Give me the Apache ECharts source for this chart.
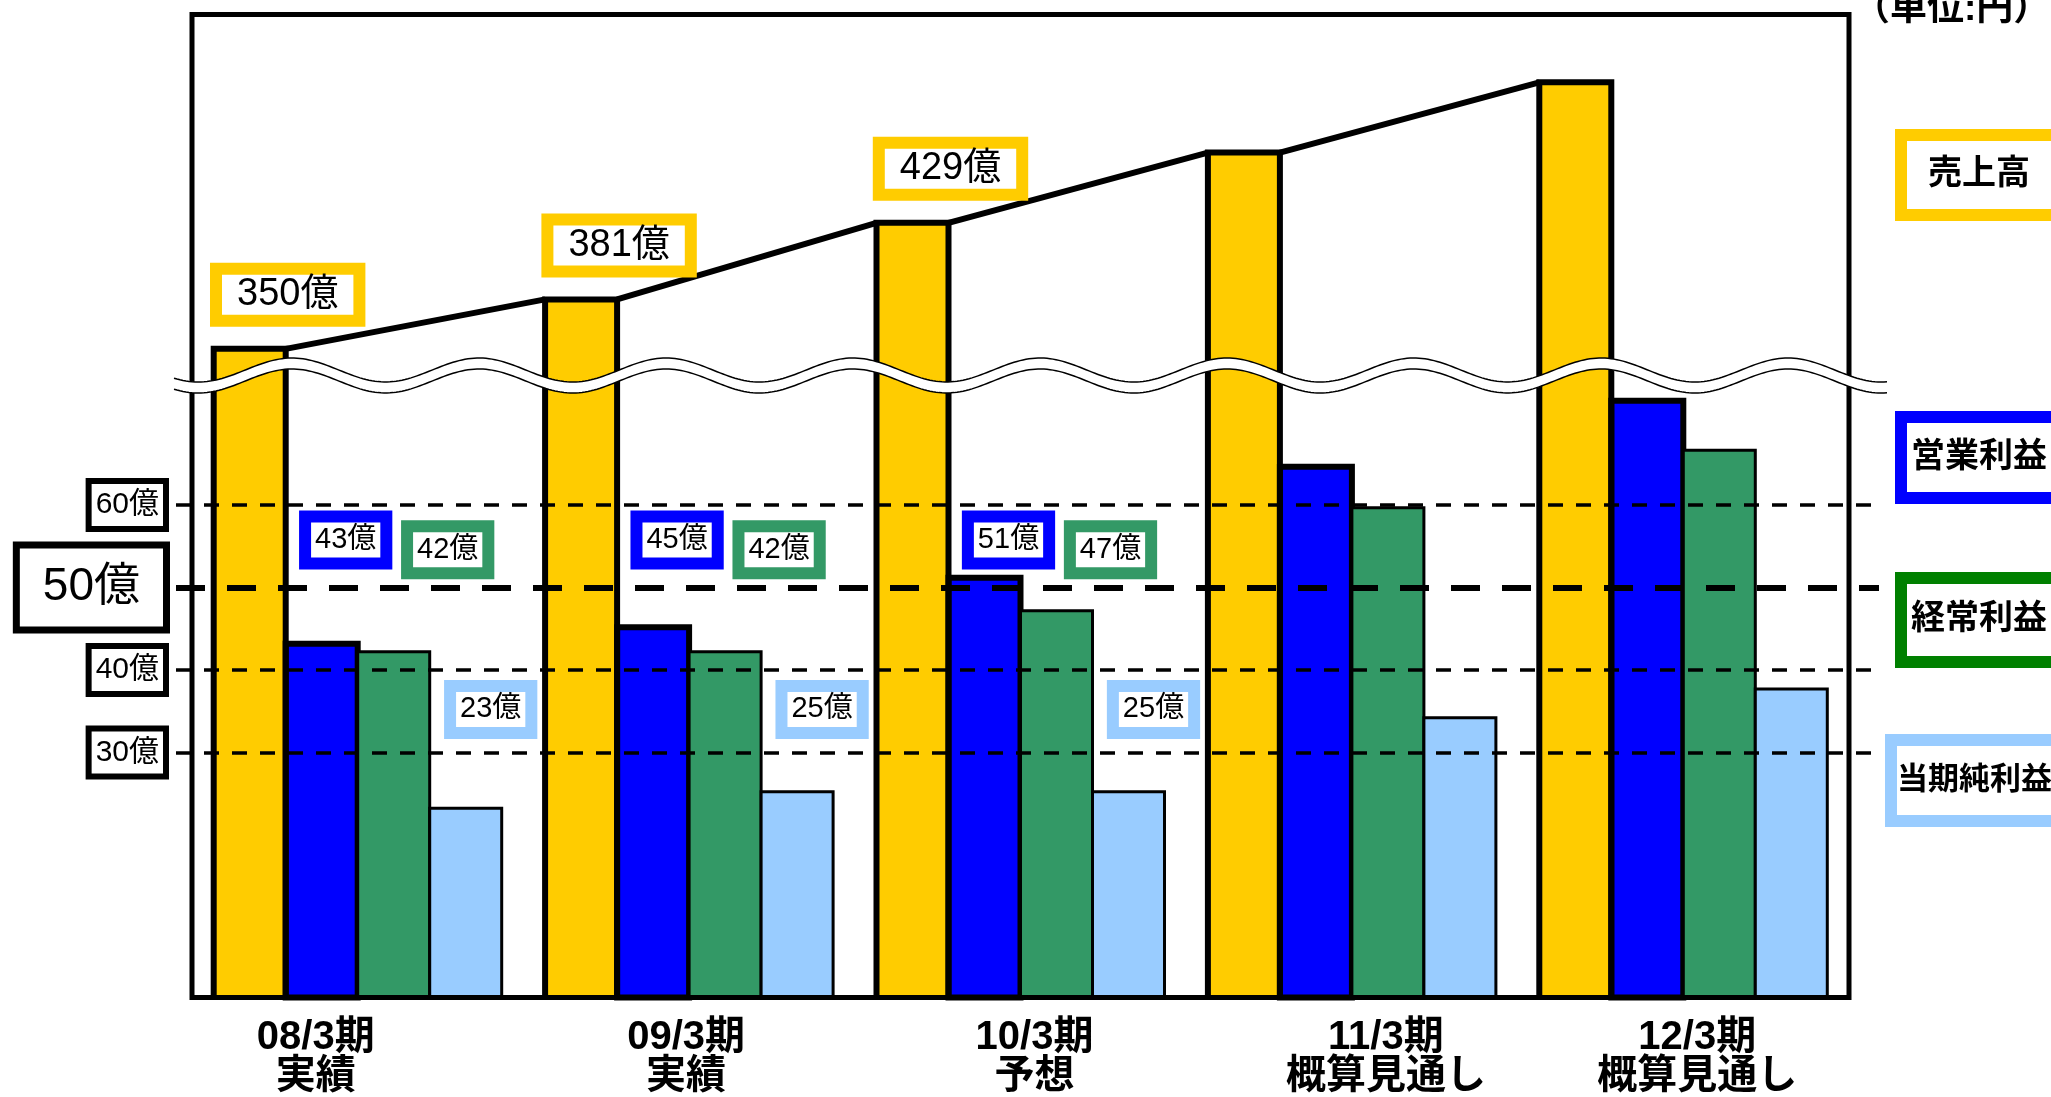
<!DOCTYPE html>
<html>
<head>
<meta charset="utf-8">
<script src="https://cdn.jsdelivr.net/npm/echarts@6/dist/echarts.min.js"></script>
<style>
  html, body { margin: 0; padding: 0; background: #fff; }
  #chart { width: 2051px; height: 1097px; }
</style>
</head>
<body>
<div id="chart"></div>
<script>
// values in 億円
var periods = ['08/3期\n実績', '09/3期\n実績', '10/3期\n予想', '11/3期\n概算見通し', '12/3期\n概算見通し'];
var sales = [350, 381, 429, 473, 517];
var operatingProfit = [43, 45, 51, 64.5, 72.5];
var ordinaryProfit = [42, 42, 47, 59.5, 66.5];
var netProfit = [23, 25, 25, 34, 37.5];
var guideLevels = [30, 40, 50, 60];
var labelledPeriods = 3; // the two outlook periods carry no value boxes

// ---- style ----
var FONT = "'Liberation Sans', 'Noto Sans CJK JP', sans-serif";
var BAR_W = 72;
var YELLOW = '#FFCC00', BLUE = '#0000FF', GREEN = '#339966', SKY = '#99CCFF';
var labelShift = [-42, -3, 14, 34, 14]; // period labels are not centred under their groups
var WAVE = { from: 174, to: 1888, y: 370, band: 11, amp: 12, period: 187, phase: 292 };

var chart = echarts.init(document.getElementById('chart'));

// left edge of bar k (0..3) in the group centred on cx
function slotLeft(cx, k) {
  return cx - 2 * BAR_W + k * BAR_W;
}

function valueBox(text, x, y, color, size, pad, lh) {
  return {
    type: 'text',
    z2: 50,
    style: {
      text: text, x: x, y: y,
      align: 'center', verticalAlign: 'middle',
      fontSize: size, fontFamily: FONT, lineHeight: lh,
      fill: '#000', backgroundColor: '#fff',
      borderColor: color, borderWidth: 12, padding: pad
    }
  };
}

function renderSales(params, api) {
  var i = api.value(0);
  var top = api.coord([i, api.value(1)]);
  var bottom = params.coordSys.y + params.coordSys.height;
  var x = slotLeft(top[0], 0);
  var kids = [
    { type: 'rect', shape: { x: x, y: top[1], width: BAR_W, height: bottom - top[1] }, style: { fill: YELLOW } },
    { type: 'polyline', z2: 10,
      shape: { points: [[x, bottom], [x, top[1]], [x + BAR_W, top[1]], [x + BAR_W, bottom]] },
      style: { stroke: '#000', lineWidth: 6, fill: null, lineJoin: 'miter' } }
  ];
  if (i + 1 < sales.length) {
    var next = api.coord([i + 1, sales[i + 1]]);
    kids.push({ type: 'line', z2: 10,
      shape: { x1: x + BAR_W, y1: top[1], x2: slotLeft(next[0], 0), y2: next[1] },
      style: { stroke: '#000', lineWidth: 6 } });
  }
  if (i < labelledPeriods) {
    kids.push(valueBox(api.value(1) + '億', x + BAR_W / 2 + 38, top[1] - 54, YELLOW, 38, [2, 15], 36));
  }
  return { type: 'group', children: kids };
}

function profitBars(slot, fill, lineWidth, labelDx, labelLevel) {
  return function (params, api) {
    var i = api.value(0);
    var v = api.value(1);
    var top = api.coord([i, v]);
    var bottom = params.coordSys.y + params.coordSys.height;
    var x = slotLeft(top[0], slot);
    var kids = [{
      type: 'rect',
      shape: { x: x, y: top[1], width: BAR_W, height: bottom - top[1] },
      style: { fill: fill, stroke: '#000', lineWidth: lineWidth }
    }];
    if (i < labelledPeriods) {
      var at = api.coord([i, labelLevel]);
      kids.push(valueBox(v + '億', x + BAR_W / 2 + labelDx, at[1], fill, 29, [2, 4], 31));
    }
    return { type: 'group', children: kids };
  };
}

function pairs(arr) {
  return arr.map(function (v, i) { return [i, v]; });
}

function waveLine(offset) {
  var pts = [];
  for (var x = WAVE.from; x <= WAVE.to; x += 3) {
    pts.push([x, WAVE.y + offset - WAVE.amp * Math.cos(2 * Math.PI * (x - WAVE.phase) / WAVE.period)]);
  }
  return pts;
}

var upper = waveLine(0);
var lower = waveLine(WAVE.band);

var legendBoxes = [
  { name: '売上高', color: YELLOW, left: 1900, top: 129, size: 34, pad: [16, 21] },
  { name: '営業利益', color: BLUE, left: 1900, top: 411, size: 34, pad: [16.5, 4] },
  { name: '経常利益', color: '#008000', left: 1900, top: 572, size: 34, pad: [18, 4] },
  { name: '当期純利益', color: SKY, left: 1890, top: 734, size: 31, pad: [16.5, 0] }
];

var option = {
  animation: false,
  backgroundColor: '#fff',
  title: {
    text: '（単位:円）', left: 1853, top: -9, padding: 0,
    textStyle: { fontSize: 37, fontWeight: 'bold', fontFamily: FONT, color: '#000', lineHeight: 37 }
  },
  legend: legendBoxes.map(function (b) {
    return {
      data: [b.name], left: b.left - 5, top: b.top, padding: 0,
      itemWidth: 0, itemHeight: 0, icon: 'none', selectedMode: false,
      textStyle: {
        fontSize: b.size, fontWeight: 'bold', fontFamily: FONT, color: '#000', lineHeight: 36,
        backgroundColor: '#fff', borderColor: b.color, borderWidth: 12, padding: b.pad
      }
    };
  }),
  grid: [
    { left: 192, right: 202, top: 14.5, bottom: 97, show: true, borderColor: '#000', borderWidth: 5,
      backgroundColor: 'transparent', z: 10 },
    { left: 176, right: 172, top: 14.5, bottom: 97 }
  ],
  xAxis: [
    {
      type: 'category', gridIndex: 0,
      data: periods.map(function (p, i) {
        var s = labelShift[i];
        return { value: p, textStyle: { padding: s > 0 ? [0, 0, 0, 2 * s] : [0, -2 * s, 0, 0] } };
      }),
      axisLine: { show: false }, axisTick: { show: false }, splitLine: { show: false },
      axisLabel: { interval: 0, margin: 21, fontSize: 40, fontWeight: 'bold', fontFamily: FONT, color: '#000', lineHeight: 39 }
    },
    { type: 'value', gridIndex: 1, min: 0, max: 1, show: false, splitLine: { show: false } }
  ],
  yAxis: [
    { type: 'value', gridIndex: 0, min: 0, max: 119.45, show: false, splitLine: { show: false } },
    { type: 'value', gridIndex: 0, min: -56.4, max: 559.5, show: false, splitLine: { show: false } },
    { type: 'value', gridIndex: 1, min: 0, max: 119.45, show: false, splitLine: { show: false } }
  ],
  series: [
    { name: '売上高', type: 'custom', xAxisIndex: 0, yAxisIndex: 1, data: pairs(sales),
      renderItem: renderSales, itemStyle: { color: YELLOW } },
    { name: '営業利益', type: 'custom', xAxisIndex: 0, yAxisIndex: 0, data: pairs(operatingProfit),
      renderItem: profitBars(1, BLUE, 6, 24, 55.6), itemStyle: { color: BLUE } },
    { name: '経常利益', type: 'custom', xAxisIndex: 0, yAxisIndex: 0, data: pairs(ordinaryProfit),
      renderItem: profitBars(2, GREEN, 3, 54, 54.4), itemStyle: { color: GREEN } },
    { name: '当期純利益', type: 'custom', xAxisIndex: 0, yAxisIndex: 0, data: pairs(netProfit),
      renderItem: profitBars(3, SKY, 3, 25, 35.0), itemStyle: { color: SKY } },
    {
      type: 'line', xAxisIndex: 1, yAxisIndex: 2, data: [], silent: true, z: 5,
      markLine: {
        symbol: 'none', silent: true, animation: false,
        data: guideLevels.map(function (v) {
          var big = v === 50;
          return {
            yAxis: v,
            lineStyle: big ? { color: '#000', width: 6, type: [29, 22] } : { color: '#000', width: 3.5, type: [15, 13] },
            label: {
              show: true, position: 'start', distance: 13, formatter: v + '億',
              fontSize: big ? 46 : 30, fontFamily: FONT, color: '#000', lineHeight: big ? 50 : 36,
              backgroundColor: '#fff', borderColor: '#000', borderWidth: big ? 7 : 6,
              padding: big ? [14, 23] : [3, 4]
            }
          };
        })
      }
    }
  ],
  graphic: [
    { type: 'polygon', z: 100, silent: true, shape: { points: upper.concat(lower.slice().reverse()) }, style: { fill: '#fff' } },
    { type: 'polyline', z: 101, silent: true, shape: { points: upper }, style: { stroke: '#000', lineWidth: 1.5, fill: null } },
    { type: 'polyline', z: 101, silent: true, shape: { points: lower }, style: { stroke: '#000', lineWidth: 1.5, fill: null } }
  ]
};

chart.setOption(option);
</script>
</body>
</html>
